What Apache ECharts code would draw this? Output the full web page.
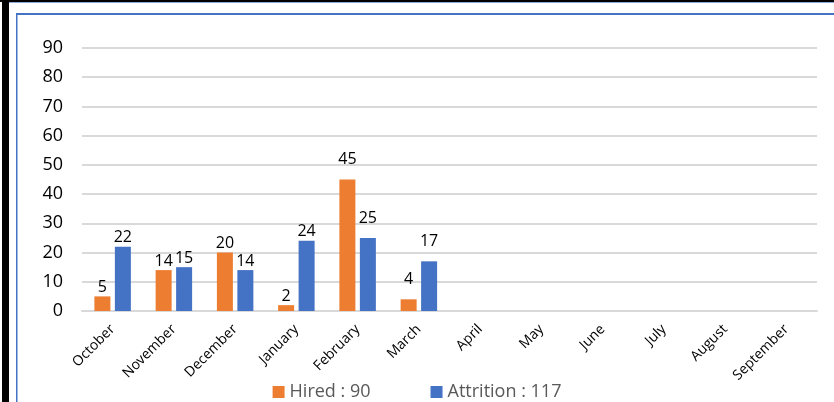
<!DOCTYPE html>
<html>
<head>
<meta charset="utf-8">
<script src="https://cdn.jsdelivr.net/npm/echarts@6/dist/echarts.min.js"></script>
<style>
html,body{margin:0;padding:0;background:#fff;}
#c{width:834px;height:402px;}
</style>
</head>
<body>
<div id="c"></div>
<script>
const months = ['October','November','December','January','February','March','April','May','June','July','August','September'];
const hired = [5, 14, 20, 2, 45, 4, null, null, null, null, null, null];
const attrition = [22, 15, 14, 24, 25, 17, null, null, null, null, null, null];
const yTicks = [0, 10, 20, 30, 40, 50, 60, 70, 80, 90];
const raisedLabelMonths = ['February', 'March'];

const sum = a => a.reduce((s, v) => s + (v || 0), 0);
const totals = { 'Hired': sum(hired), 'Attrition': sum(attrition) };

// February and March labels sit noticeably higher above their bars in the reference
const withLabelGap = arr => arr.map((v, i) => raisedLabelMonths.includes(months[i]) ? { value: v, label: { distance: 12 } } : v);

const chart = echarts.init(document.getElementById('c'));
const FONT = 'Open Sans';
const barLabel = { show: true, position: 'top', distance: 1, fontFamily: FONT, fontSize: 16, color: '#000' };
chart.setOption({
  animation: false,
  textStyle: { fontFamily: FONT },
  graphic: [
    { type: 'rect', shape: { x: 0, y: 0, width: 834, height: 2 }, style: { fill: '#000' }, silent: true },
    { type: 'rect', shape: { x: 9, y: 2, width: 825, height: 1 }, style: { fill: '#8faadc' }, silent: true },
    { type: 'rect', shape: { x: 2, y: 0, width: 7, height: 402 }, style: { fill: '#000' }, silent: true },
    { type: 'rect', shape: { x: 16, y: 13, width: 818, height: 2 }, style: { fill: '#4472c4' }, silent: true },
    { type: 'rect', shape: { x: 16, y: 13, width: 1.5, height: 389 }, style: { fill: '#4472c4' }, silent: true }
  ],
  grid: { left: 82, right: 17, top: 48, bottom: 91, containLabel: false },
  legend: {
    bottom: -4,
    left: 'center',
    icon: 'rect',
    itemWidth: 12,
    itemHeight: 12,
    itemGap: 60,
    textStyle: { fontFamily: FONT, fontSize: 18, color: '#595959' },
    formatter: name => name + ' : ' + totals[name],
    data: ['Hired', 'Attrition']
  },
  xAxis: {
    type: 'category',
    data: months,
    axisLine: { lineStyle: { color: '#d9d9d9', width: 2 } },
    axisTick: { show: false },
    axisLabel: { rotate: 45, interval: 0, fontFamily: FONT, fontSize: 14, color: '#000', margin: 16 }
  },
  yAxis: {
    type: 'value',
    min: yTicks[0],
    max: yTicks[yTicks.length - 1],
    interval: 10,
    axisLine: { show: false },
    axisTick: { show: false },
    splitLine: { lineStyle: { color: '#d9d9d9', width: 2 } },
    axisLabel: { fontFamily: FONT, fontSize: 18, color: '#000', margin: 19 }
  },
  series: [
    {
      name: 'Hired', type: 'bar', data: withLabelGap(hired), barWidth: 16, barGap: '28%',
      itemStyle: { color: '#ed7d31' },
      label: barLabel
    },
    {
      name: 'Attrition', type: 'bar', data: withLabelGap(attrition), barWidth: 16,
      itemStyle: { color: '#4472c4' },
      label: barLabel
    }
  ]
});
</script>
</body>
</html>
